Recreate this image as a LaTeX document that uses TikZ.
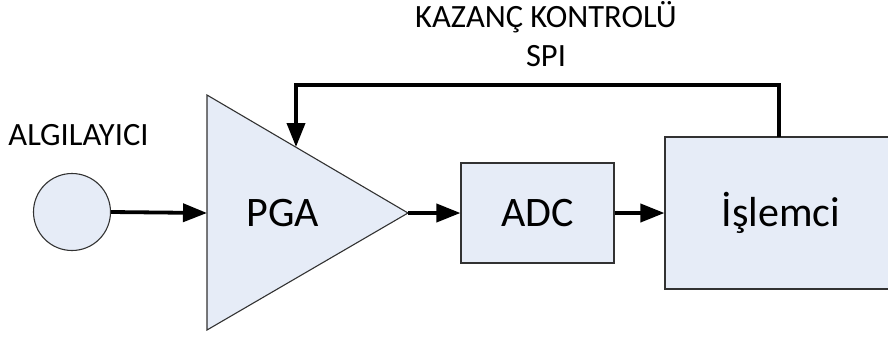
\documentclass[tikz,border=0pt]{standalone}
\usepackage{fontspec}
\setmainfont{Carlito}
\usetikzlibrary{arrows.meta,calc}
\definecolor{boxfill}{RGB}{230,236,247}
\definecolor{edge}{RGB}{50,50,50}
\tikzset{
  blockbox/.style={draw=edge, line width=1.1pt, fill=boxfill, inner sep=0pt,
    font=\fontsize{42}{50}\selectfont, text height=27pt, text depth=0pt},
  bigtext/.style={inner sep=0pt, font=\fontsize{42}{50}\selectfont, text height=27pt, text depth=0pt},
  smalltext/.style={inner sep=0pt, anchor=base, font=\fontsize{32.5}{38}\selectfont},
  sig/.style={line width=3.8pt, -{Triangle[length=24pt,width=18pt]}},
}
\begin{document}
\begin{tikzpicture}[x=1pt,y=-1pt]
\useasboundingbox (0,0) rectangle (888,338);
% sensor
\node[draw=edge, line width=1.1pt, fill=boxfill, circle, minimum size=77pt, inner sep=0pt] (sensor) at (72,212) {};
\node[smalltext] (sensorlbl) at (78.5,145) {ALGILAYICI};
% PGA triangle
\coordinate (pgaTL) at (207,95);
\coordinate (pgaBL) at (207,330);
\coordinate (pgaOut) at (408,213);
\coordinate (pgaIn) at (207,213);
\coordinate (pgaTop) at (296,147);
\draw[draw=edge, line width=1.1pt, fill=boxfill] (pgaTL) -- (pgaOut) -- (pgaBL) -- cycle;
\node[bigtext] (pga) at (283,213) {PGA};
% ADC
\node[blockbox, minimum width=153pt, minimum height=100pt] (adc) at (537.5,213) {ADC};
% Islemci (extends past the right edge)
\node[blockbox, minimum width=232pt, minimum height=152pt] (isl) at (781,213) {İşlemci};
% labels
\node[smalltext] (kazanc) at (546,27) {KAZANÇ KONTROLÜ};
\node[smalltext] (spi) at (546,66) {SPI};
% connectors
\coordinate (fb) at (779,137);
\draw[sig] (sensor.east) -- (pgaIn);
\draw[sig] (pgaOut) -- (adc.west);
\draw[sig] (adc.east) -- (isl.west);
\draw[sig] (fb) -- ++(0,-52) -| (pgaTop);
\end{tikzpicture}
\end{document}
